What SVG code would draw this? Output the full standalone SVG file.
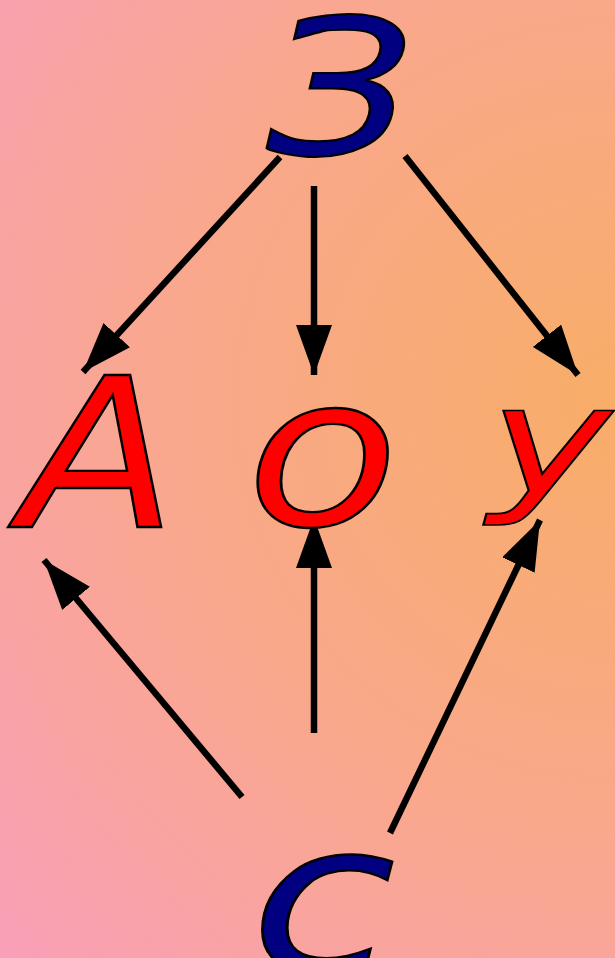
<svg xmlns="http://www.w3.org/2000/svg" width="615" height="958" viewBox="0 0 615 958">
<defs>
<radialGradient id="bg" gradientUnits="userSpaceOnUse" cx="615" cy="400" r="830">
<stop offset="0" stop-color="#f8ad68"/>
<stop offset="0.5" stop-color="#f9a88a"/>
<stop offset="1" stop-color="#f99fb8"/>
</radialGradient>
<marker id="ah" viewBox="0 0 50 36" refX="50" refY="18" markerWidth="50" markerHeight="36" markerUnits="userSpaceOnUse" orient="auto">
<path d="M0,0 L50,18 L0,36 Z" fill="#000"/>
</marker>
<style>
.t{font-family:"DejaVu Sans",sans-serif;font-style:oblique;stroke:#000;stroke-width:2.3;text-anchor:middle;font-size:208px}
.b{fill:#000080}
.r{fill:#ff0000}
.c{stroke:#000;stroke-width:6.5;fill:none;marker-end:url(#ah)}
</style>
</defs>
<rect width="615" height="958" fill="url(#bg)"/>
<g id="connectors">
<line class="c" x1="280" y1="157" x2="83" y2="372"/>
<line class="c" x1="314" y1="186" x2="314" y2="375"/>
<line class="c" x1="405" y1="156" x2="578" y2="375"/>
<line class="c" x1="242" y1="797" x2="44" y2="560"/>
<line class="c" x1="314" y1="733" x2="314" y2="518"/>
<line class="c" x1="390" y1="833" x2="540" y2="520"/>
</g>
<g id="n-ze"><text class="t b" x="0" y="0" style="font-size:198px" transform="translate(340,154) scale(1.16,0.95)">З</text></g>
<g id="n-a"><text class="t r" x="0" y="0" transform="translate(98.5,527) scale(1.1,1)">А</text></g>
<g id="n-o"><text class="t r" x="0" y="0" transform="translate(322.5,525) scale(1.2,1)">о</text></g>
<g id="n-u"><text class="t r" x="0" y="0" transform="translate(550,493) scale(1,0.73)">у</text></g>
<g id="n-s"><text class="t b" x="0" y="0" transform="translate(323,971) scale(1.27,1)">с</text></g>
</svg>
